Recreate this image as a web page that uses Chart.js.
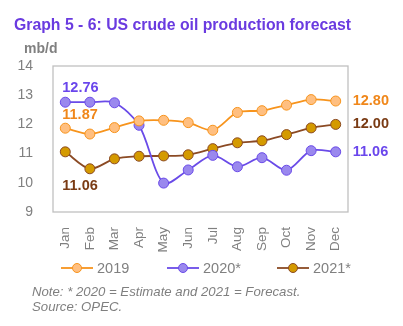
<!DOCTYPE html>
<html>
<head>
<meta charset="utf-8">
<script src="https://cdn.jsdelivr.net/npm/chart.js@4.4.1/dist/chart.umd.min.js"></script>
<style>
  html, body { margin: 0; padding: 0; background: #fff; }
  #wrap { position: relative; width: 403px; height: 326px; overflow: hidden; font-family: "Liberation Sans", Arial, sans-serif; }
  #title { position: absolute; left: 14px; top: 16px; font-size: 15.8px; font-weight: bold; color: #6a3be0; white-space: nowrap; }
  #unit { position: absolute; left: 24px; top: 40px; font-size: 14px; font-weight: bold; color: #808080; }
  #note { position: absolute; left: 32px; top: 284px; font-size: 13.2px; font-style: italic; color: #7f7f7f; line-height: 15px; white-space: nowrap; }
  canvas { position: absolute; left: 0; top: 0; }
</style>
</head>
<body>
<div id="wrap">
  <canvas id="c" width="403" height="326"></canvas>
  <div id="title">Graph 5 - 6: US crude oil production forecast</div>
  <div id="unit">mb/d</div>
  <div id="note">Note: * 2020 = Estimate and 2021 = Forecast.<br>Source: OPEC.</div>
</div>
<script>
// Monthly US crude oil production, mb/d
const months = ["Jan", "Feb", "Mar", "Apr", "May", "Jun", "Jul", "Aug", "Sep", "Oct", "Nov", "Dec"];
const series2019 = [11.87, 11.67, 11.89, 12.12, 12.14, 12.06, 11.80, 12.41, 12.47, 12.66, 12.85, 12.80];
const series2020 = [12.76, 12.76, 12.74, 11.97, 9.99, 10.44, 10.94, 10.55, 10.86, 10.43, 11.10, 11.06];
const series2021 = [11.06, 10.48, 10.82, 10.91, 10.92, 10.96, 11.17, 11.37, 11.44, 11.65, 11.88, 12.00];
const seriesNames = ["2019", "2020*", "2021*"];
const yTicks = [9, 10, 11, 12, 13, 14];

const styles = [
  { line: "#f7941d", fill: "#ffbf80", text: "#f0871a" },
  { line: "#6a4be8", fill: "#9a88ee", text: "#6a46ec" },
  { line: "#8b4a24", fill: "#d49a00", text: "#7a3b14" }
];
const values = [series2019, series2020, series2021];

// Plot frame around the chart area
const framePlugin = {
  id: "frame",
  beforeDatasetsDraw(chart) {
    const { ctx, chartArea: a } = chart;
    ctx.save();
    ctx.strokeStyle = "#c0c0c0";
    ctx.lineWidth = 1.3;
    ctx.strokeRect(a.left, a.top, a.right - a.left, a.bottom - a.top);
    ctx.restore();
  }
};

// First and last values printed beside the lines
const endLabelPlugin = {
  id: "endLabels",
  afterDatasetsDraw(chart) {
    const { ctx } = chart;
    ctx.save();
    ctx.font = "bold 14.5px 'Liberation Sans', Arial, sans-serif";
    ctx.textBaseline = "middle";
    const firstOffsets = [-13, -14, 34];
    chart.data.datasets.forEach((ds, i) => {
      const meta = chart.getDatasetMeta(i);
      const first = meta.data[0];
      const last = meta.data[meta.data.length - 1];
      ctx.fillStyle = styles[i].text;
      ctx.textAlign = "left";
      ctx.fillText(ds.data[0].toFixed(2), first.x - 3, first.y + firstOffsets[i]);
      ctx.fillText(ds.data[ds.data.length - 1].toFixed(2), last.x + 17, last.y);
    });
    ctx.restore();
  }
};

// Legend: short line with a marker, then the series name
const legendPlugin = {
  id: "lineLegend",
  afterDraw(chart) {
    const { ctx } = chart;
    const xs = [61, 167, 277];
    const y = 268;
    ctx.save();
    ctx.font = "14.5px 'Liberation Sans', Arial, sans-serif";
    ctx.textBaseline = "middle";
    seriesNames.forEach((name, i) => {
      const x = xs[i];
      ctx.strokeStyle = styles[i].line;
      ctx.lineWidth = 1.8;
      ctx.beginPath();
      ctx.moveTo(x, y);
      ctx.lineTo(x + 32, y);
      ctx.stroke();
      ctx.beginPath();
      ctx.arc(x + 16, y, 4.5, 0, Math.PI * 2);
      ctx.fillStyle = styles[i].fill;
      ctx.fill();
      ctx.lineWidth = 1;
      ctx.stroke();
      ctx.fillStyle = "#808080";
      ctx.textAlign = "left";
      ctx.fillText(name, x + 36, y + 1);
    });
    ctx.restore();
  }
};

new Chart(document.getElementById("c"), {
  type: "line",
  data: {
    labels: months,
    datasets: values.map((v, i) => ({
      label: seriesNames[i],
      data: v,
      borderColor: styles[i].line,
      borderWidth: 1.8,
      backgroundColor: styles[i].fill,
      pointBackgroundColor: styles[i].fill,
      pointBorderColor: styles[i].line,
      pointBorderWidth: 1,
      pointRadius: 5,
      tension: 0.3,
      fill: false
    }))
  },
  options: {
    responsive: false,
    animation: false,
    layout: { padding: { left: 0, right: 55, top: 66, bottom: 72 } },
    plugins: { legend: { display: false }, tooltip: { enabled: false } },
    scales: {
      x: {
        offset: true,
        grid: { display: false },
        border: { display: false },
        ticks: {
          color: "#808080",
          font: { size: 13.5, family: "'Liberation Sans', Arial, sans-serif" },
          minRotation: 90,
          maxRotation: 90,
          padding: 7
        },
        afterFit(s) { s.height = 42; }
      },
      y: {
        min: 9,
        max: 14,
        grid: { display: false },
        border: { display: false },
        afterBuildTicks(s) { s.ticks = yTicks.map(v => ({ value: v })); },
        ticks: {
          color: "#808080",
          font: { size: 14, family: "'Liberation Sans', Arial, sans-serif" },
          padding: 12
        },
        afterFit(s) { s.width = 53; }
      }
    }
  },
  plugins: [framePlugin, endLabelPlugin, legendPlugin]
});
</script>
</body>
</html>
